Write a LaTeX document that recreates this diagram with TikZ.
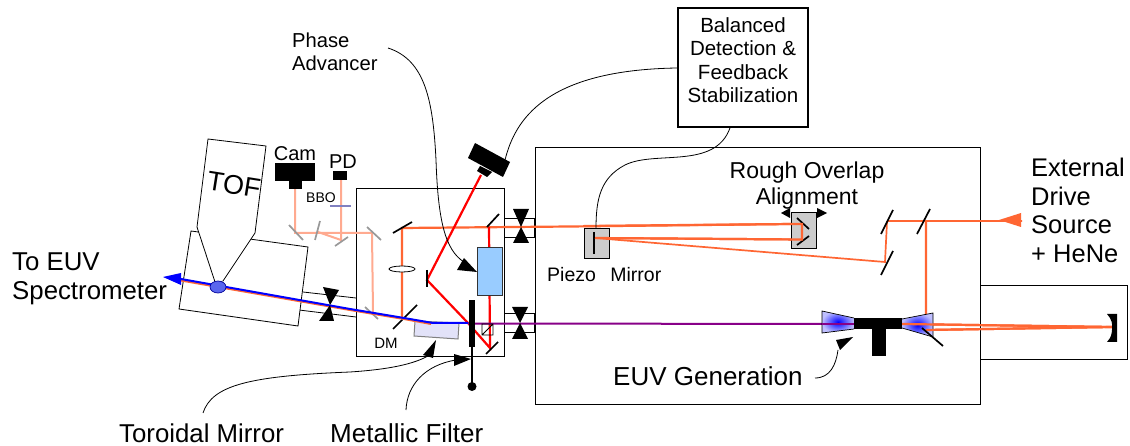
\documentclass[tikz,border=0pt]{standalone}
\usepackage{fontspec}
\setmainfont{Liberation Sans}
\definecolor{beam}{HTML}{FF6633}
\definecolor{pale}{HTML}{FFAA90}
\definecolor{mgray}{HTML}{999999}
\definecolor{boxgray}{HTML}{CCCCCC}
\definecolor{euvblue}{HTML}{0000FF}
\definecolor{purp}{HTML}{880088}
\definecolor{phaseblue}{HTML}{99CCFF}
\definecolor{torofill}{HTML}{E2E2F8}
\definecolor{bbob}{HTML}{8080C0}
\definecolor{spotb}{HTML}{5A66EE}
\newcommand{\fs}[1]{\fontsize{#1}{#1}\selectfont}
\tikzset{
  x=1pt,y=-1pt,
  lbl/.style={inner sep=0pt,align=center,text=black},
  lbll/.style={inner sep=0pt,anchor=west,text=black},
  wall/.style={draw=black,line width=1pt},
  thinw/.style={draw=black,line width=0.8pt},
  orb/.style={draw=beam,line width=2.2pt},
  orbt/.style={draw=beam,line width=1.7pt},
  paleb/.style={draw=pale,line width=2pt},
  redb/.style={draw=red,line width=2.2pt},
  bmir/.style={draw=black,line width=1.7pt},
  gmir/.style={draw=mgray,line width=1.7pt},
  lead/.style={draw=black,line width=0.8pt},
}
\begin{document}
\begin{tikzpicture}
\useasboundingbox (0,0) rectangle (1130,446);
\fill[white] (0,0) rectangle (1130,446);
% boxes
\draw[wall] (535,148) rectangle (980,404);
\draw[wall] (980,286) -- (1127,286) -- (1127,359) -- (980,359);
\draw[wall] (356,189) rectangle (504,356);
\node[draw=black,line width=1.8pt,minimum width=130pt,minimum height=119pt,inner sep=0pt] (ctrl) at (743,67.5) {};
% pipes
\draw[thinw] (504,218) rectangle (534,237);
\draw[thinw] (504,313) rectangle (534,332);
\draw[thinw] (303,292) -- (356,298) (299,310) -- (356,317);
% TOF
\draw[thinw,fill=white] (191,231) -- (308,247) -- (298,326) -- (179,309) -- cycle;
\draw[thinw,fill=white] (208,139) -- (266,146) -- (255,233) -- (223,281) -- (215,282) -- (197,227) -- cycle;
\fill[white] (219,279) -- (223,281) -- (215,282) -- cycle;
\node[lbl,rotate=-9] (tof) at (234,185) {\fs{27}TOF};
% pale beams in left
\draw[paleb] (295,189) -- (295,233) -- (372,233) -- (373,312);
\draw[paleb] (341,180) -- (341,240) -- (318,232);
% left optics
\draw[gmir] (289,225) -- (303,240);
\draw[gmir] (320,221) -- (315,240);
\draw[gmir] (348,237) -- (335,246);
\draw[gmir] (367,227) -- (381,240);
\draw[gmir] (365,307) -- (378,319);
\draw[draw=bbob,line width=1.3pt] (330,206) -- (351,206);
% cam, PD
\fill[black] (275,163) rectangle (315,181);
\fill[black] (289,181) rectangle (302,189);
\fill[black] (333,171) rectangle (347,180);
\node[lbl] (cam) at (295,154) {\fs{20}Cam};
\node[lbl] (pd) at (343,162) {\fs{20}PD};
\node[lbl] (bbo) at (321,198) {\fs{14}BBO};
% orange beams
\draw[orb] (402,318) -- (402,228) -- (570,226.5) -- (792,224) -- (802,224) -- (802,239.5) -- (595,238);
% piezo, rough overlap
\node[draw=black,fill=boxgray,line width=1pt,minimum width=25pt,minimum height=30pt,inner sep=0pt] (piezo) at (596.5,244) {};
\node[draw=black,fill=boxgray,line width=1pt,minimum width=25pt,minimum height=36pt,inner sep=0pt] (rough) at (803.5,231) {};
\draw[bmir] (594,232) -- (594,254);
\draw[bmir] (797,218) -- (809,229);
\draw[bmir] (797,245) -- (809,236);
\draw[orb] (584,226) -- (792,224) -- (802,224) -- (802,239.5) -- (595,238);
\draw[orbt] (595,238) -- (885,262) -- (887,222) -- (888,221) -- (1022,221);
\draw[orb] (926,221) -- (926,330) -- (1112,327) -- (902,324);
\draw[bmir] (393,233) -- (412,222);
\draw[bmir] (393,329) -- (417,305);
\draw[bmir] (881,234) -- (893,210);
\draw[bmir] (881,275) -- (893,251);
\draw[bmir] (917,234) -- (930,209);
% source arrow
\fill[beam] (999,220) -- (1021,213) -- (1021,227) -- cycle;
% lens
\draw[draw=black,line width=0.8pt,fill=white] (402,269) ellipse (13 and 3);
% toroid
\draw[draw=gray,line width=1pt,fill=torofill] (415,321) -- (459,323) -- (458,339) -- (414,336) -- cycle;
% red beams
\draw[redb] (481,175) -- (427,280) -- (468,323) -- (490,348) -- (489,227);
% phase advancer block
\node[draw=black!80,fill=phaseblue,line width=1pt,minimum width=25pt,minimum height=48pt,inner sep=0pt] (phase) at (489.5,272) {};
% purple
\draw[draw=purp,line width=2pt] (468,323.5) -- (854,324);
% pale under blue, blue beam
\draw[draw=beam,line width=2pt] (181,280.5) -- (350,310) -- (404,319) -- (431,324);
\draw[draw=euvblue,line width=2pt] (181,279) -- (350,309) -- (404,318) -- (433,323) -- (468,323);
\fill[euvblue] (163,277) -- (181,273) -- (181,285) -- cycle;
\draw[draw=blue!60!black,line width=0.7pt,fill=spotb] (218,287) ellipse (8 and 6);
% small square
\draw[draw=black,line width=0.8pt] (482,324) rectangle (493,335) (482,335) -- (493,324);
% filter
\fill[black] (469,300) rectangle (475,347);
\draw[draw=black,line width=1.6pt] (472,347) -- (472,386);
\fill[black] (472,386.5) circle (4.5);
% mirrors in box
\draw[bmir] (427,270) -- (427,287);
\draw[bmir] (487,227) -- (499,214);
\draw[bmir] (486,354) -- (498,342);
% camera
\fill[black] (475,143) -- (510,162) -- (503,177) -- (468,158) -- cycle;
\fill[black] (480,166) -- (477,171) -- (487,177) -- (492,172) -- cycle;
% valves
\foreach \ax/\ay/\bx/\by/\cx/\cy/\dx/\dy/\ex/\ey/\fx/\fy in {513/209/529/209/521/227/513/243/529/243/521/227,512/307/528/307/520/323/512/339/528/339/520/323,323/287/339/290/330/305/319/321/334/321/330/305}{
  \fill[black] (\ax,\ay) -- (\bx,\by) -- (\cx,\cy) -- cycle;
  \fill[black] (\dx,\dy) -- (\ex,\ey) -- (\fx,\fy) -- cycle;
}
% rough overlap arrows
\fill[black] (781,213) -- (790,208) -- (790,218) -- cycle;
\fill[black] (827,213) -- (817,208) -- (817,218) -- cycle;
% nozzle
\shade[inner color=euvblue,outer color=euvblue!25] (822,311) -- (854,318) -- (854,329) -- (822,333) -- cycle;
\shade[inner color=euvblue,outer color=euvblue!25] (902,319) -- (933,313) -- (933,337) -- (902,328) -- cycle;
\draw[draw=black,line width=0.7pt] (854,318) -- (822,311) -- (822,333) -- (854,329);
\draw[draw=black,line width=0.7pt] (902,319) -- (933,313) -- (933,337) -- (902,328);
\draw[draw=purp,line width=2pt] (822,324) -- (854,324);
\draw[orb] (902,324) -- (1112,327);
\draw[orb] (926,330) -- (1112,327);
\fill[black] (854,318) rectangle (902,329);
\fill[black] (872,329) rectangle (886,356);
\draw[bmir] (922,328) -- (943,346);
% end mirror
\fill[black] (1107,314) -- (1117,314) -- (1117,342) -- (1107,342) -- (1110,338) .. controls (1113,332) and (1113,322) .. (1110,318) -- cycle;
% leaders
\coordinate (phstart) at (388,48);
\coordinate (camtop) at (505,160);
\node[lbl,align=left,anchor=north west,font=\fs{20.2},text depth=0pt] (phtxt) at (292,33) {Phase\\[2pt]Advancer};
\draw[lead] (phstart) .. controls (425,60) and (433,100) .. (436,160) .. controls (438,220) and (445,250) .. (464,262);
\fill[black] (477,272) -- (464,258) -- (457,270) -- cycle;
\draw[lead] (camtop) .. controls (515,120) and (545,70) .. (ctrl.west |- 0,68);
\draw[lead] (ctrl.south) ++(-13,0) .. controls (715,170) and (655,150) .. (625,165) .. controls (600,178) and (596,200) .. (piezo.north -| 596,0);
\node[lbll] (toro) at (119,433) {\fs{25.8}Toroidal Mirror};
\node[lbll] (metal) at (330,433) {\fs{26}Metallic Filter};
\coordinate (toroleft) at (203,413);
\coordinate (metalleft) at (406,410);
\draw[lead] (toroleft) .. controls (212,385) and (250,376) .. (350,372) .. controls (380,370) and (410,366) .. (428,356);
\fill[black] (436,340) -- (423,355) -- (433,358) -- cycle;
\draw[lead] (metalleft) .. controls (407,385) and (425,365) .. (456,360);
\fill[black] (471,359) -- (454,354) -- (454,366) -- cycle;
\node[lbll] (euv) at (613,376) {\fs{26}EUV Generation};
\coordinate (euvend) at (815,378);
\draw[lead] (euvend) .. controls (830,378) and (836,365) .. (838,350);
\fill[black] (853,337) -- (836,340) -- (840,350) -- cycle;
% text
\node[lbl,font=\fs{20.5}] (ctrltxt) at (743,60) {Balanced\\[3pt]Detection \&\\[3pt]Feedback\\[3pt]Stabilization};
\node[lbl,font=\fs{23}] (roughtxt) at (807,186) {Rough Overlap\\[3pt]Alignment};
\node[lbl,align=left,anchor=north west,font=\fs{25.5}] (exttxt) at (1031,158) {External\\[3pt]Drive\\[3pt]Source\\[3pt]+ HeNe};
\node[lbl,align=left,anchor=north west,font=\fs{25.8}] (specttxt) at (12,253) {To EUV\\[3pt]Spectrometer};
\node[lbll] (pztxt) at (547,275) {\fs{19.5}Piezo\hspace{9pt} Mirror};
\node[lbl] (dmtxt) at (386,343) {\fs{15}DM};
\end{tikzpicture}
\end{document}
